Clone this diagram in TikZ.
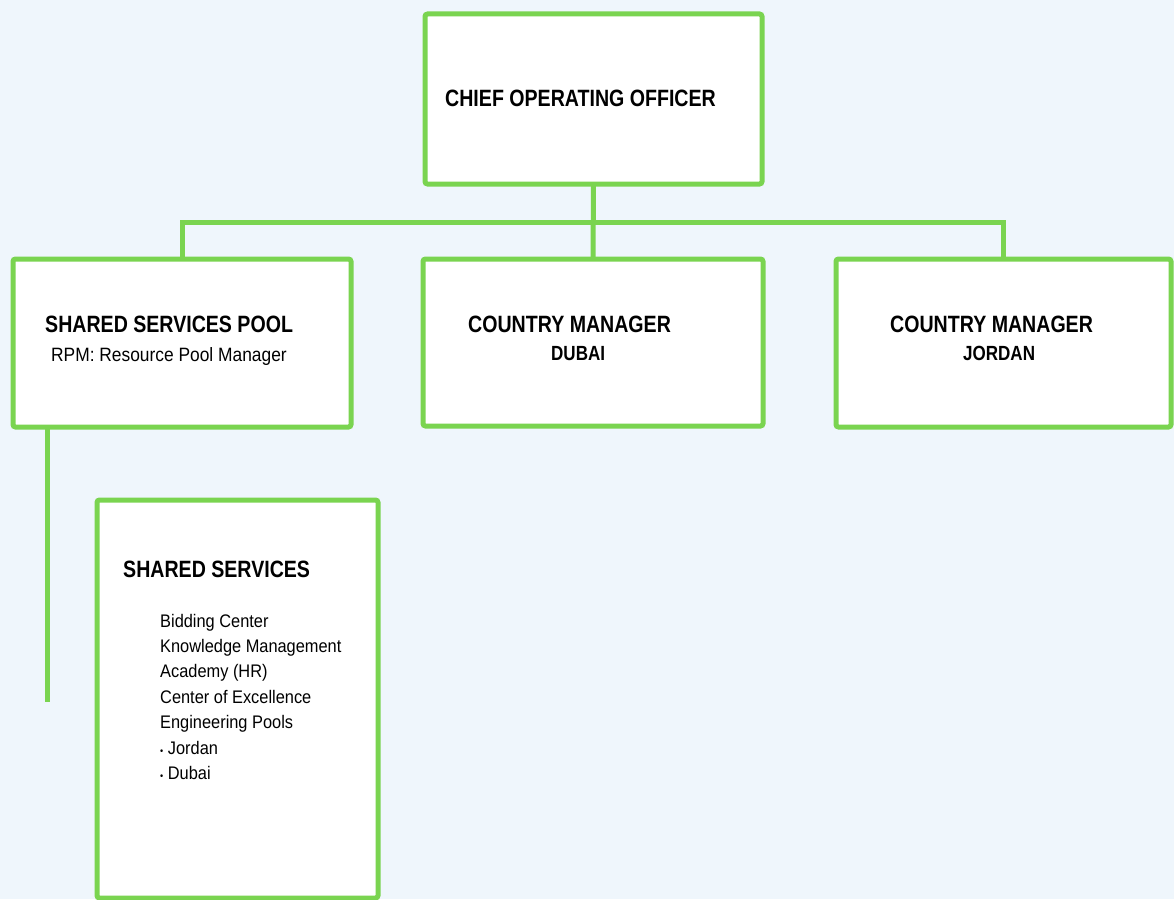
\documentclass[tikz,border=0pt]{standalone}
\usepackage{fontspec}
\setmainfont{Liberation Sans}
\newfontfamily\orgfont[FakeStretch=0.83]{Liberation Sans}
\newfontfamily\orgplain[FakeStretch=0.9]{Liberation Sans}
\usetikzlibrary{positioning}

\definecolor{boxgreen}{RGB}{122,212,80}
\definecolor{backblue}{RGB}{239,246,252}
\newcommand\smalldot{{\fontsize{10}{10}\selectfont\textbullet}}

\tikzset{
    orgbox/.style={draw=boxgreen, line width=5pt, fill=white, rounded corners=2.5pt,
        inner sep=0pt, outer sep=0pt, anchor=north west},
    headtext/.style={anchor=base west, inner sep=0pt, font=\orgfont\bfseries\fontsize{23.6}{28}\selectfont},
    subhead/.style={anchor=base west, inner sep=0pt, font=\orgfont\bfseries\fontsize{20.5}{24}\selectfont},
    plaintext/.style={anchor=base west, inner sep=0pt, font=\orgplain\fontsize{19.3}{23}\selectfont},
    itemtext/.style={anchor=base west, inner sep=0pt, font=\orgplain\fontsize{18.2}{22}\selectfont},
    link/.style={draw=boxgreen, line width=5pt}
}

\begin{document}
\begin{tikzpicture}[x=1pt,y=-1pt]

    \fill[backblue] (0,0) rectangle (1174,899);
    \useasboundingbox (0,0) rectangle (1174,899);

    % boxes
    \node[orgbox, minimum width=337pt, minimum height=170pt] (coo) at (425,14) {};
    \node[orgbox, minimum width=338pt, minimum height=168pt] (pool) at (13,259) {};
    \node[orgbox, minimum width=340pt, minimum height=167pt] (dubai) at (423,259) {};
    \node[orgbox, minimum width=335pt, minimum height=168pt] (jordan) at (836,259) {};
    \node[orgbox, minimum width=281pt, minimum height=398pt] (services) at (97,500) {};

    % connectors
    \coordinate (bar) at (593,222);
    \coordinate (poolend) at (47,702);
    \draw[link] (coo.south) -- (dubai.north);
    \draw[link] (pool.north) |- (bar) -| (jordan.north);
    \draw[link] (poolend |- pool.south) -- (poolend);

    % texts
    \node[headtext] (cootext) at (445,106) {CHIEF OPERATING OFFICER};
    \node[headtext] (pooltext) at (45,332) {SHARED SERVICES POOL};
    \node[plaintext] (rpmtext) at (51,361) {RPM: Resource Pool Manager};
    \node[headtext] (dubaitext) at (468,332) {COUNTRY MANAGER};
    \node[subhead] (dubaisub) at (551,360) {DUBAI};
    \node[headtext] (jordantext) at (890,332) {COUNTRY MANAGER};
    \node[subhead] (jordansub) at (963,360) {JORDAN};
    \node[headtext] (servicestext) at (123,577) {SHARED SERVICES};

    \foreach \txt [count=\i] in {Bidding Center, Knowledge Management, Academy (HR),
        Center of Excellence, Engineering Pools, \smalldot{} Jordan, \smalldot{} Dubai}
        \node[itemtext] (item\i) at (160,{627+25.4*(\i-1)}) {\txt};

\end{tikzpicture}
\end{document}
